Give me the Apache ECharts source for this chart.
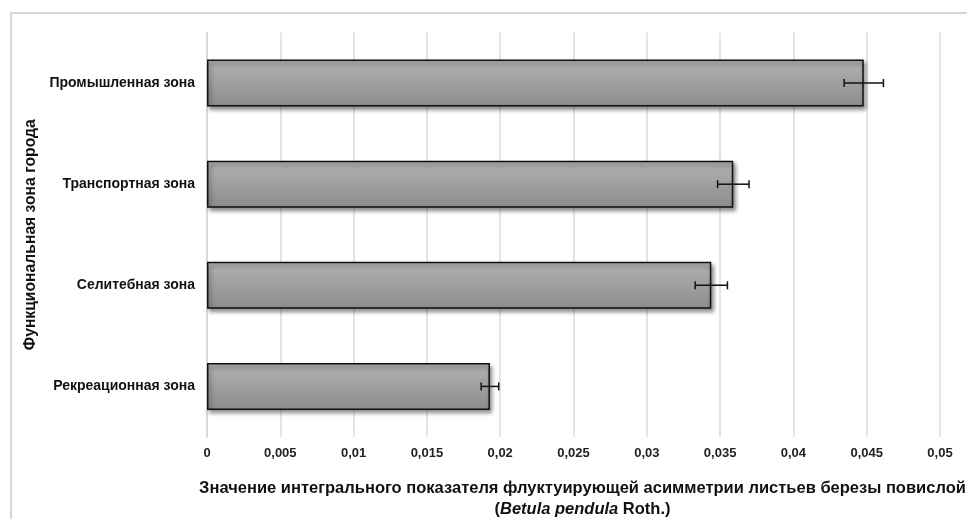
<!DOCTYPE html>
<html>
<head>
<meta charset="utf-8">
<script src="https://cdn.jsdelivr.net/npm/echarts@6/dist/echarts.min.js"></script>
<style>
html,body{margin:0;padding:0;background:#fff;}
#c{width:967px;height:519px;}
</style>
</head>
<body>
<div id="c"></div>
<script>
const categories = ['Промышленная зона', 'Транспортная зона', 'Селитебная зона', 'Рекреационная зона'];
const values = [0.0448, 0.0359, 0.0344, 0.0193];
const errors = [0.00134, 0.00107, 0.0011, 0.0006];
const xMin = 0, xMax = 0.05, xStep = 0.005;

const FONT = '"Liberation Sans", Arial, sans-serif';
const chart = echarts.init(document.getElementById('c'), null, {renderer: 'canvas'});

const errData = categories.map((c, i) => [i, values[i] - errors[i], values[i] + errors[i]]);

chart.setOption({
  animation: false,
  backgroundColor: '#fff',
  graphic: [{
    type: 'rect', silent: true, z: -10,
    shape: {x: 11, y: 13, width: 1000, height: 600},
    style: {fill: 'none', stroke: '#d6d6d6', lineWidth: 2}
  }],
  grid: {left: 207, right: 27, top: 32.5, bottom: 82, containLabel: false, outerBoundsMode: 'none'},
  xAxis: {
    type: 'value', min: xMin, max: xMax, interval: xStep,
    axisLine: {show: false}, axisTick: {show: false},
    splitLine: {show: true, lineStyle: {color: '#dcdcdc', width: 1.5}},
    axisLabel: {
      margin: 10, color: '#222', fontFamily: FONT, fontWeight: 'bold', fontSize: 13,
      formatter: v => String(parseFloat(v.toFixed(4))).replace('.', ',')
    },
    name: '{b|Значение интегрального показателя флуктуирующей асимметрии листьев березы повислой}\n{b|(}{i|Betula pendula}{b| Roth.)}',
    nameLocation: 'middle', nameGap: 41,
    nameTextStyle: {
      align: 'center',
      padding: [0, 0, 0, 18],
      rich: {
        b: {fontFamily: FONT, fontWeight: 'bold', fontSize: 16.5, color: '#111', lineHeight: 21},
        i: {fontFamily: FONT, fontWeight: 'bold', fontStyle: 'italic', fontSize: 16.5, color: '#111', lineHeight: 21}
      }
    }
  },
  yAxis: {
    type: 'category', data: categories, inverse: true,
    axisLine: {show: true, lineStyle: {color: '#d6d6d6', width: 1.5}},
    axisTick: {show: false},
    axisLabel: {margin: 12, color: '#111', fontFamily: FONT, fontWeight: 'bold', fontSize: 14},
    name: 'Функциональная зона города', nameLocation: 'middle', nameGap: 157, nameRotate: 90,
    nameTextStyle: {fontFamily: FONT, fontWeight: 'bold', fontSize: 15.7, color: '#111'}
  },
  series: [{
    type: 'bar', data: values, barWidth: 47,
    itemStyle: {
      color: new echarts.graphic.LinearGradient(0, 0, 0, 1, [
        {offset: 0, color: '#b2b2b2'}, {offset: 1, color: '#8c8c8c'}
      ]),
      borderColor: '#111', borderWidth: 1.5,
      shadowColor: 'rgba(0,0,0,0.45)', shadowBlur: 4, shadowOffsetX: 2, shadowOffsetY: 3
    },
    z: 2
  }, {
    type: 'custom', data: errData, z: 5,
    renderItem: function (params, api) {
      const y = api.value(0);
      const lo = api.coord([api.value(1), y]);
      const hi = api.coord([api.value(2), y]);
      const h = 4;
      const st = {stroke: '#111', lineWidth: 1.5};
      return {type: 'group', children: [
        {type: 'line', shape: {x1: lo[0], y1: lo[1], x2: hi[0], y2: hi[1]}, style: st},
        {type: 'line', shape: {x1: lo[0], y1: lo[1] - h, x2: lo[0], y2: lo[1] + h}, style: st},
        {type: 'line', shape: {x1: hi[0], y1: hi[1] - h, x2: hi[0], y2: hi[1] + h}, style: st}
      ]};
    },
    encode: {x: [1, 2], y: 0}
  }]
});
</script>
</body>
</html>
